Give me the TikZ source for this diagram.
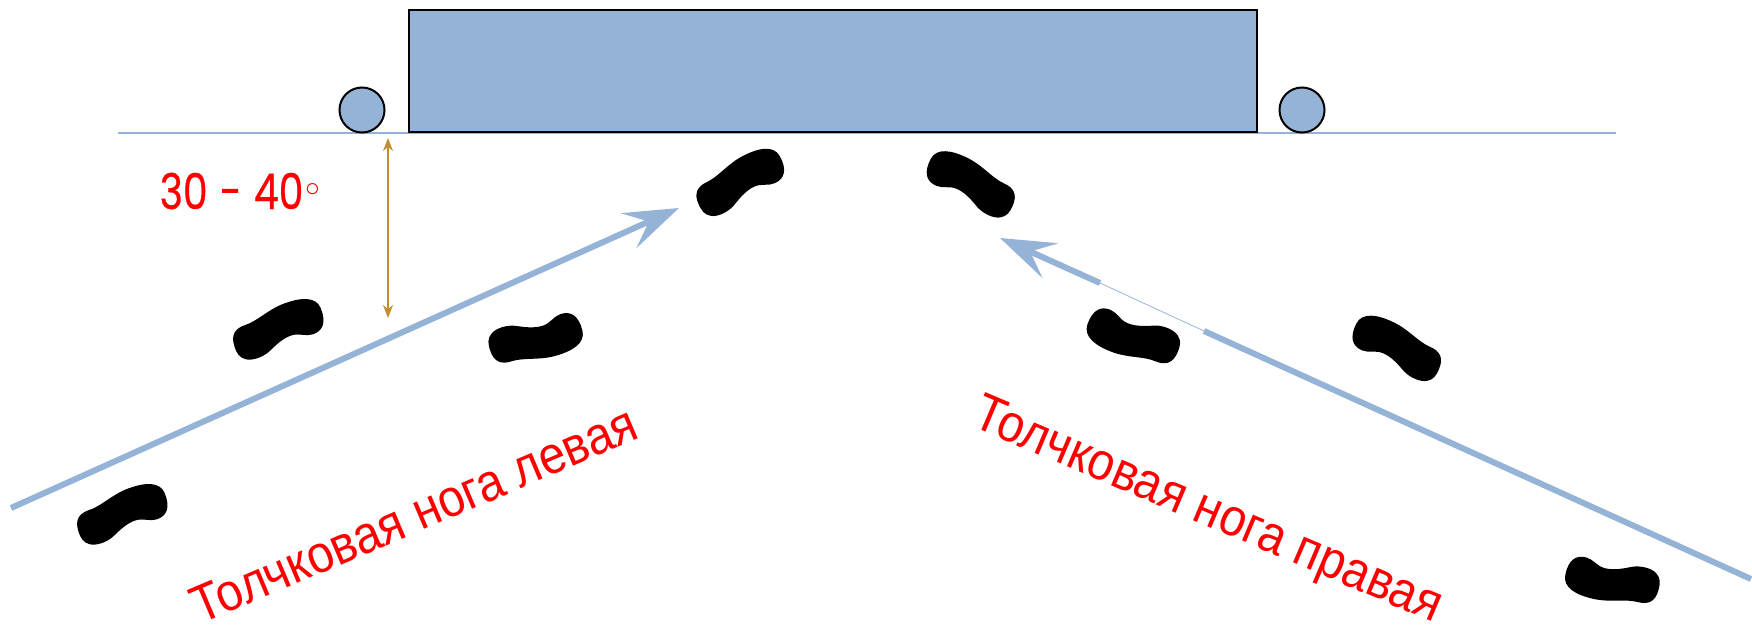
\documentclass[tikz,border=0pt]{standalone}
\usepackage{fontspec}
\setmainfont[FakeStretch=0.9]{Liberation Sans}
\newfontfamily\gothic[FakeStretch=0.8, FakeBold=0.5]{Poppins}
\newfontfamily\symb{DejaVu Sans}
\usetikzlibrary{arrows.meta}

\definecolor{steel}{RGB}{149,179,215}
\definecolor{ochre}{RGB}{192,144,48}

\tikzset{
  ground/.style={draw=steel, line width=0.02cm},
  block/.style={draw=black, fill=steel, line width=0.02cm, inner sep=0pt},
  roller/.style={circle, draw=black, fill=steel, line width=0.02cm, inner sep=0pt, minimum size=0.45cm},
  run/.style={draw=steel, line width=0.06cm, -{Stealth[length=0.55cm,width=0.38cm,inset=0.22cm]}},
  gauge/.style={draw=ochre, line width=0.02cm, {Stealth[length=0.13cm,width=0.1cm]}-{Stealth[length=0.13cm,width=0.1cm]}},
  legtext/.style={text=red, inner sep=0pt, font=\fontsize{15}{17}\selectfont},
  foot/.pic={
    \fill[black, scale=0.93] (-50,2)
      .. controls (-50,-11) and (-43,-16) .. (-32,-16)
      .. controls (-18,-16) and (-4,-24) .. (14,-25)
      .. controls (34,-26) and (50,-22) .. (51,-8)
      .. controls (52,8) and (46,16) .. (34,16)
      .. controls (26,16) and (21,10) .. (12,10)
      .. controls (2,10) and (-8,15) .. (-16,19)
      .. controls (-25,23) and (-37,23) .. (-43,19)
      .. controls (-49,15) and (-50,10) .. cycle;
  }
}

\begin{document}
\begin{tikzpicture}[x=0.01cm, y=-0.01cm]
\useasboundingbox (0,0) rectangle (1752,630);

% floor line, mat and rollers
\coordinate (groundL) at (118,133);
\coordinate (groundR) at (1616,133);
\draw[ground] (groundL) -- (groundR);
\node[block, anchor=north west, minimum width=8.47cm, minimum height=1.22cm] (mat) at (408,9) {};
\node[roller] (rollL) at (362,110) {};
\node[roller] (rollR) at (1302,110) {};

% run-up lines
\coordinate (runL) at (11,508);
\coordinate (tipL) at (679,208);
\coordinate (runR) at (1751,579);
\coordinate (gapA) at (1204,331);
\coordinate (gapB) at (1100,283);
\coordinate (tipR) at (1000,238);
\draw[run] (runL) -- (tipL);
\draw[steel, line width=0.06cm] (runR) -- (gapA);
\draw[steel, line width=0.008cm] (gapA) -- (gapB);
\draw[run] (gapB) -- (tipR);

% steps
\pic[rotate=18] at (122,515) {foot};
\pic[rotate=18] at (278,330) {foot};
\pic[rotate=18, yscale=-1] at (535,338) {foot};
\pic[rotate=25] at (740,183) {foot};
\pic[rotate=-24, xscale=-1] at (971,185) {foot};
\pic[rotate=-23, xscale=-1, yscale=-1] at (1134,336) {foot};
\pic[rotate=-23, xscale=-1] at (1397,349) {foot};
\pic[rotate=-15, xscale=-1, yscale=-1] at (1613,580) {foot};

% angle of approach
\coordinate (gaugeTop) at (388,138);
\coordinate (gaugeBot) at (388,318);
\draw[gauge] (gaugeTop) -- (gaugeBot);
\node[anchor=base west, text=red, inner sep=0pt, font=\gothic\fontsize{14}{16}\selectfont] (range) at (159,209)
  {30\hspace{3.5pt}-\hspace{3.5pt}40\kern-0.5pt\raisebox{1.5pt}{\symb\fontsize{11}{11}\selectfont ◦}};

\node[legtext, anchor=base, rotate=23] (legL) at (421,531) {Толчковая нога левая};
\node[legtext, anchor=base, rotate=-23] (legR) at (1202,524) {Толчковая нога правая};
\end{tikzpicture}
\end{document}
